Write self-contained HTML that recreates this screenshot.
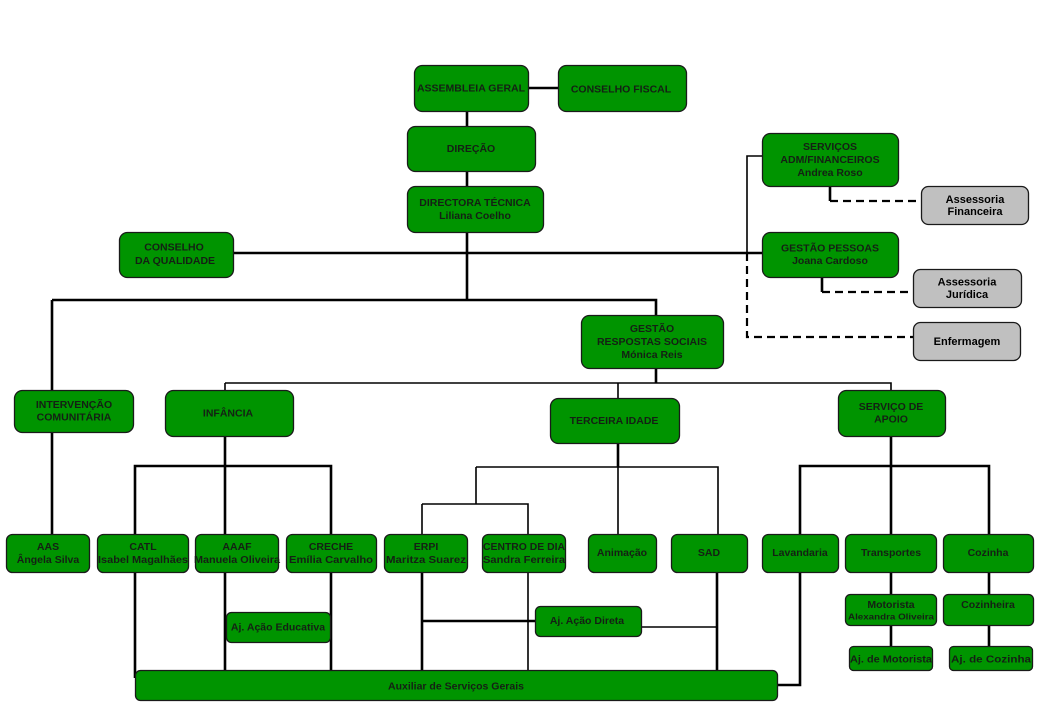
<!DOCTYPE html>
<html><head><meta charset="utf-8"><style>
html,body{margin:0;padding:0;background:#fff;}
svg{display:block;}
text{font-family:"Liberation Sans",Arial,sans-serif;font-weight:bold;font-size:10.5px;fill:#142014;text-anchor:middle;}
.g{fill:#009400;stroke:#1a1a1a;stroke-width:1.3;}
.s{fill:#c0c0c0;stroke:#1a1a1a;stroke-width:1.3;}
.gt{fill:#000;font-size:11px;}
.k{stroke:#000;stroke-width:2.6;fill:none;}
.t{stroke:#000;stroke-width:1.6;fill:none;}
.d{stroke:#000;stroke-width:2.2;fill:none;stroke-dasharray:8 5;}
</style></head><body>
<svg width="1040" height="720" viewBox="0 0 1040 720" xmlns="http://www.w3.org/2000/svg">
<!-- connectors -->
<path class="k" d="M528 88H558"/>
<path class="k" d="M467 111V127M467 171V187M467 232V300"/>
<path class="k" d="M233 253H762"/>
<path class="t" d="M762 156H747V253"/>
<path class="d" d="M747 253V337H913"/>
<path class="k" d="M830 186V201"/><path class="d" d="M830 201H921"/>
<path class="k" d="M822 277V292"/><path class="d" d="M822 292H913"/>
<path class="k" d="M52 300H656V316"/>
<path class="k" d="M52 300V390M52 432V535"/>
<path class="k" d="M656 368V383"/>
<path class="t" d="M225 383H891V391M618 383V398M225 383V391"/>
<path class="k" d="M225 436V466M135 535V466H331V535M225 466V535"/>
<path class="k" d="M618 443V467"/>
<path class="t" d="M476 467H718V535M618 467V535M476 467V504M422 504H528V535M422 504V535"/>
<path class="k" d="M891 436V535M800 535V466H989V535"/>
<path class="k" d="M891 572V594M891 625V647M989 572V594M989 625V647"/>
<path class="k" d="M800 572V685H777"/>
<path class="k" d="M135 572V678M225 572V670M331 572V670"/>
<path class="k" d="M422 572V670M422 621H536"/>
<path class="t" d="M528 572V670M642 627H717"/>
<path class="k" d="M717 572V670"/>

<!-- boxes -->
<rect class="g" x="414.5" y="65.5" width="114" height="46" rx="8"/>
<text x="471" y="91.5">ASSEMBLEIA GERAL</text>
<rect class="g" x="558.5" y="65.5" width="128" height="46" rx="8"/>
<text x="621" y="92.5">CONSELHO  FISCAL</text>
<rect class="g" x="407.5" y="126.5" width="128" height="45" rx="8"/>
<text x="471" y="152">DIREÇÃO</text>
<rect class="g" x="407.5" y="186.5" width="136" height="46" rx="8"/>
<text x="475" y="206">DIRECTORA  TÉCNICA</text>
<text x="475" y="219">Liliana Coelho</text>

<rect class="g" x="762.5" y="133.5" width="136" height="53" rx="8"/>
<text x="830" y="150">SERVIÇOS</text>
<text x="830" y="163">ADM/FINANCEIROS</text>
<text x="830" y="176">Andrea Roso</text>
<rect class="s" x="921.5" y="186.5" width="107" height="38" rx="7"/>
<text class="gt" x="975" y="203">Assessoria</text>
<text class="gt" x="975" y="215">Financeira</text>
<rect class="g" x="762.5" y="232.5" width="136" height="45" rx="8"/>
<text x="830" y="251.5">GESTÃO PESSOAS</text>
<text x="830" y="264">Joana  Cardoso</text>
<rect class="s" x="913.5" y="269.5" width="108" height="38" rx="7"/>
<text class="gt" x="967" y="285.5">Assessoria</text>
<text class="gt" x="967" y="298">Jurídica</text>
<rect class="s" x="913.5" y="322.5" width="107" height="38" rx="7"/>
<text class="gt" x="967" y="345">Enfermagem</text>

<rect class="g" x="119.5" y="232.5" width="114" height="45" rx="8"/>
<text x="174" y="250.5">CONSELHO</text>
<text x="175" y="264">DA QUALIDADE</text>

<rect class="g" x="581.5" y="315.5" width="142" height="53" rx="8"/>
<text x="652" y="332">GESTÃO</text>
<text x="652" y="345">RESPOSTAS  SOCIAIS</text>
<text x="652" y="358">Mónica Reis</text>

<rect class="g" x="14.5" y="390.5" width="119" height="42" rx="8"/>
<text x="74" y="408">INTERVENÇÃO</text>
<text x="74" y="420.5">COMUNITÁRIA</text>
<rect class="g" x="165.5" y="390.5" width="128" height="46" rx="8"/>
<text x="228" y="416.5">INFÂNCIA</text>
<rect class="g" x="550.5" y="398.5" width="129" height="45" rx="8"/>
<text x="614" y="424">TERCEIRA  IDADE</text>
<rect class="g" x="838.5" y="390.5" width="107" height="46" rx="8"/>
<text x="891" y="410">SERVIÇO DE</text>
<text x="891" y="422.5">APOIO</text>

<!-- bottom row -->
<rect class="g" x="6.5" y="534.5" width="83" height="38" rx="6"/>
<text x="48" y="550">AAS</text><text x="48" y="563">Ângela Silva</text>
<rect class="g" x="97.5" y="534.5" width="91" height="38" rx="6"/>
<text x="143" y="550">CATL</text><text x="143" y="563" textLength="90" lengthAdjust="spacingAndGlyphs">Isabel Magalhães</text>
<rect class="g" x="195.5" y="534.5" width="83" height="38" rx="6"/>
<text x="237" y="550">AAAF</text><text x="237" y="563" textLength="86" lengthAdjust="spacingAndGlyphs">Manuela Oliveira</text>
<rect class="g" x="286.5" y="534.5" width="90" height="38" rx="6"/>
<text x="331" y="550">CRECHE</text><text x="331" y="563" textLength="84" lengthAdjust="spacingAndGlyphs">Emília Carvalho</text>
<rect class="g" x="384.5" y="534.5" width="83" height="38" rx="6"/>
<text x="426" y="550">ERPI</text><text x="426" y="563" textLength="80" lengthAdjust="spacingAndGlyphs">Maritza Suarez</text>
<rect class="g" x="482.5" y="534.5" width="83" height="38" rx="6"/>
<text x="524" y="550" textLength="82" lengthAdjust="spacingAndGlyphs">CENTRO  DE  DIA</text><text x="524" y="563" textLength="82" lengthAdjust="spacingAndGlyphs">Sandra Ferreira</text>
<rect class="g" x="588.5" y="534.5" width="68" height="38" rx="6"/>
<text x="622" y="556">Animação</text>
<rect class="g" x="671.5" y="534.5" width="76" height="38" rx="6"/>
<text x="709" y="556">SAD</text>
<rect class="g" x="762.5" y="534.5" width="76" height="38" rx="6"/>
<text x="800" y="556">Lavandaria</text>
<rect class="g" x="845.5" y="534.5" width="91" height="38" rx="6"/>
<text x="891" y="556">Transportes</text>
<rect class="g" x="943.5" y="534.5" width="90" height="38" rx="6"/>
<text x="988" y="556">Cozinha</text>

<rect class="g" x="845.5" y="594.5" width="91" height="31" rx="5"/>
<text x="891" y="608">Motorista</text>
<text x="891" y="619.5" style="font-size:8.5px" textLength="86" lengthAdjust="spacingAndGlyphs">Alexandra  Oliveira</text>
<rect class="g" x="943.5" y="594.5" width="90" height="31" rx="5"/>
<text x="988" y="608">Cozinheira</text>
<rect class="g" x="849.5" y="646.5" width="83" height="24" rx="4"/>
<text x="891" y="662.5" textLength="82" lengthAdjust="spacingAndGlyphs">Aj. de Motorista</text>
<rect class="g" x="949.5" y="646.5" width="83" height="24" rx="4"/>
<text x="991" y="662.5" textLength="80" lengthAdjust="spacingAndGlyphs">Aj. de Cozinha</text>

<rect class="g" x="226.5" y="612.5" width="104" height="30" rx="5"/>
<text x="278" y="630.5">Aj. Ação Educativa</text>
<rect class="g" x="535.5" y="606.5" width="106" height="30" rx="5"/>
<text x="587" y="624">Aj. Ação Direta</text>

<rect class="g" x="135.5" y="670.5" width="642" height="30" rx="5"/>
<text x="456" y="689.5">Auxiliar de Serviços Gerais</text>
</svg>
</body></html>
